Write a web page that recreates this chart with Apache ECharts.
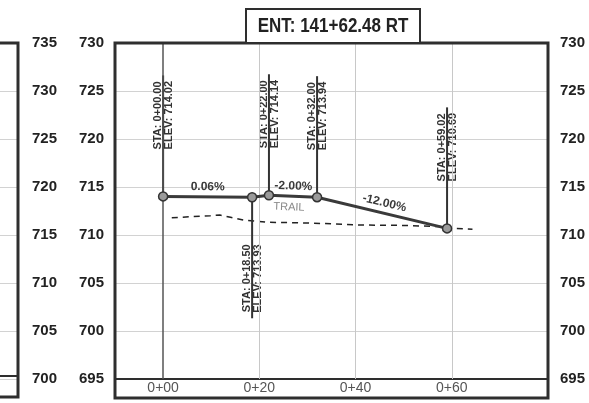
<!DOCTYPE html>
<html><head><meta charset="utf-8">
<script src="https://cdn.jsdelivr.net/npm/echarts@6/dist/echarts.min.js"></script>
<style>html,body{margin:0;padding:0;background:#fff}#c{width:589px;height:403px}</style>
</head><body><div id="c"></div>
<script>
// ---- data ----
const stations = [0, 18.5, 22, 32, 59.02];
const elevations = [714.02, 713.93, 714.14, 713.94, 710.69];
const labelSides = ['up', 'down', 'up', 'up', 'up'];
const gradeLabels = ['0.06%', '', '-2.00%', '-12.00%'];
const trailText = 'TRAIL';
const trailSegment = 2;
const groundSta = [1.8, 9.8, 11.8, 14.0, 16.7, 21.5, 27.7, 33.2, 40.9, 50.0, 57.5, 59.1, 64.3];
const groundElev = [711.80, 712.01, 712.08, 711.85, 711.56, 711.33, 711.28, 711.20, 711.04, 711.00, 710.88, 710.72, 710.60];
const xTickValues = [0, 20, 40, 60];
const titleText = 'ENT: 141+62.48 RT';

function fmtSta(s) {
  const n = Math.floor(s / 100), r = s - n * 100;
  return n + '+' + (r < 10 ? '0' : '') + r.toFixed(2);
}
function fmtTick(s) {
  const n = Math.floor(s / 100), r = Math.round(s - n * 100);
  return n + '+' + (r < 10 ? '0' : '') + r;
}

const FONT = '"Liberation Sans", Arial, sans-serif';
const dark = '#2e2e2e';

const chart = echarts.init(document.getElementById('c'));
chart.setOption({
  animation: false,
  backgroundColor: '#fff',
  grid: [
    { left: 115, right: 41, top: 43, bottom: 24 },
    { left: 0, width: 18, top: 43, bottom: 24 }
  ],
  xAxis: [
    { type: 'value', gridIndex: 0, min: -10, max: 80,
      axisLine: { show: true, onZero: false, lineStyle: { color: dark, width: 2 } },
      axisTick: { show: false }, splitLine: { show: false },
      axisLabel: { customValues: xTickValues, formatter: fmtTick, color: '#555', fontSize: 14, fontFamily: FONT, margin: 2 } },
    { type: 'value', gridIndex: 1, min: 0, max: 1, show: false }
  ],
  yAxis: [
    { type: 'value', gridIndex: 0, min: 695, max: 730, interval: 5, position: 'left',
      axisLine: { show: false }, axisTick: { show: false },
      splitLine: { show: true, lineStyle: { color: '#d2d2d2', width: 1 } },
      axisLabel: { color: '#222', fontSize: 15, fontWeight: 'bold', fontFamily: FONT, margin: 11 } },
    { type: 'value', gridIndex: 0, min: 695, max: 730, interval: 5, position: 'right',
      axisLine: { show: false }, axisTick: { show: false }, splitLine: { show: false },
      axisLabel: { color: '#222', fontSize: 15, fontWeight: 'bold', fontFamily: FONT, margin: 12 } },
    { type: 'value', gridIndex: 1, min: 700, max: 735, interval: 5, position: 'right',
      axisLine: { show: false }, axisTick: { show: false },
      splitLine: { show: true, lineStyle: { color: '#d2d2d2', width: 1 } },
      axisLabel: { color: '#222', fontSize: 15, fontWeight: 'bold', fontFamily: FONT, margin: 14 } }
  ],
  series: [
    { type: 'line', xAxisIndex: 1, yAxisIndex: 2, data: [], silent: true },
    { type: 'line', name: 'ground', xAxisIndex: 0, yAxisIndex: 0, z: 2,
      data: groundSta.map((s, i) => [s, groundElev[i]]),
      showSymbol: false, symbol: 'none', smooth: false,
      lineStyle: { color: '#222', width: 1.5, type: [6, 5] },
      markLine: { silent: true, symbol: ['none', 'none'], label: { show: false },
        lineStyle: { color: '#c8c8c8', type: 'solid', width: 1 },
        data: xTickValues.map(v => v === 0 ? { xAxis: v, lineStyle: { color: '#555', width: 1.5 } } : { xAxis: v }) } },
    { type: 'line', name: 'proposed', xAxisIndex: 0, yAxisIndex: 0, z: 5,
      data: stations.map((s, i) => [s, elevations[i]]),
      symbol: 'circle', symbolSize: 9,
      lineStyle: { color: '#3a3a3a', width: 3 },
      itemStyle: { color: '#9a9a9a', borderColor: '#333', borderWidth: 1.5 } },
    { type: 'custom', name: 'staLabels', xAxisIndex: 0, yAxisIndex: 0, z: 4,
      data: stations.map((s, i) => [s, elevations[i]]),
      renderItem: function (params, api) {
        const i = params.dataIndex;
        const p = api.coord([api.value(0), api.value(1)]);
        const up = labelSides[i] === 'up';
        const gap = 47, len = 121;
        const endY = up ? p[1] - len : p[1] + len;
        const txt = 'STA: ' + fmtSta(stations[i]) + '\nELEV: ' + elevations[i].toFixed(2);
        return { type: 'group', children: [
          { type: 'line', shape: { x1: p[0], y1: p[1], x2: p[0], y2: endY }, style: { stroke: '#333', lineWidth: 2 } },
          { type: 'text', x: p[0] + 0.5, y: up ? p[1] - gap : p[1] + gap, rotation: Math.PI / 2,
            style: { text: txt, fill: '#333', font: 'bold 11px ' + FONT, lineHeight: 11,
              textAlign: up ? 'left' : 'right', align: up ? 'left' : 'right',
              textVerticalAlign: 'middle', verticalAlign: 'middle' } }
        ] };
      } },
    { type: 'custom', name: 'grades', xAxisIndex: 0, yAxisIndex: 0, z: 6,
      data: gradeLabels.map((g, i) => [stations[i], elevations[i], stations[i + 1], elevations[i + 1]]),
      renderItem: function (params, api) {
        const i = params.dataIndex;
        const p0 = api.coord([api.value(0), api.value(1)]);
        const p1 = api.coord([api.value(2), api.value(3)]);
        const dx = p1[0] - p0[0], dy = p1[1] - p0[1], L = Math.hypot(dx, dy);
        const nx = dy / L, ny = -dx / L;
        const mx = (p0[0] + p1[0]) / 2, my = (p0[1] + p1[1]) / 2;
        const rot = -Math.atan2(dy, dx);
        const children = [];
        if (gradeLabels[i]) {
          children.push({ type: 'text', x: mx + nx * 10, y: my + ny * 10, rotation: rot,
            style: { text: gradeLabels[i], fill: '#3a3a3a', font: 'bold 12px ' + FONT,
              textAlign: 'center', align: 'center', textVerticalAlign: 'middle', verticalAlign: 'middle' } });
        }
        if (i === trailSegment) {
          children.push({ type: 'text', x: mx - 4, y: my + 11, rotation: rot,
            style: { text: trailText, fill: '#888', font: '11px ' + FONT,
              textAlign: 'center', align: 'center', textVerticalAlign: 'middle', verticalAlign: 'middle' } });
        }
        return { type: 'group', children: children };
      } }
  ],
  graphic: [
    { type: 'rect', shape: { x: 115, y: 43, width: 433, height: 355 }, style: { fill: 'none', stroke: dark, lineWidth: 3 }, z: 100 },
    { type: 'polyline', shape: { points: [[0, 43], [18, 43], [18, 397], [0, 397]] }, style: { fill: 'none', stroke: dark, lineWidth: 3 }, z: 100 },
    { type: 'line', shape: { x1: 0, y1: 376, x2: 18, y2: 376 }, style: { stroke: dark, lineWidth: 2 }, z: 100 },
    { type: 'rect', shape: { x: 246, y: 9, width: 174, height: 34 }, style: { fill: '#fff', stroke: dark, lineWidth: 2 }, z: 101 },
    { type: 'text', x: 333, y: 26, scaleX: 0.85, style: { text: titleText, font: 'bold 20px ' + FONT, fill: '#222',
      textAlign: 'center', align: 'center', textVerticalAlign: 'middle', verticalAlign: 'middle' }, z: 102 }
  ]
});
</script></body></html>
